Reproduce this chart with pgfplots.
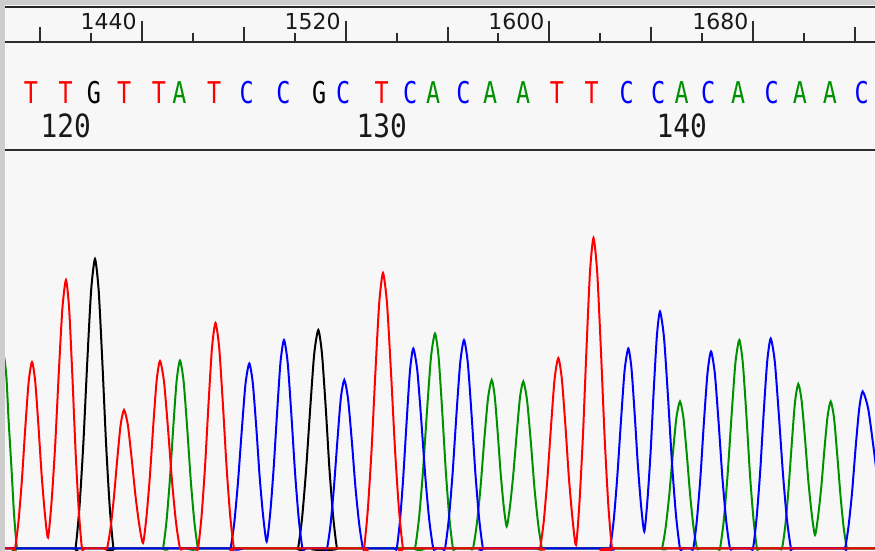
\documentclass[border=0pt]{standalone}
\usepackage{pgfplots}
\pgfplotsset{compat=1.18}
\usepackage{fontspec}
\newfontfamily\lettersfam[FakeStretch=0.78]{DejaVu Sans Mono}
\newfontfamily\numfam[FakeStretch=0.87]{DejaVu Sans Mono}
\newfontfamily\rulerfam{DejaVu Sans}
\newcommand\letterfont{\lettersfam\fontsize{15}{15}\selectfont}
\newcommand\posfont{\numfam\fontsize{16}{16}\selectfont}
\newcommand\rulerfont{\rulerfam\fontsize{11}{11}\selectfont}
\definecolor{tred}{RGB}{255,0,0}
\definecolor{tgreen}{RGB}{0,145,0}
\definecolor{tblue}{RGB}{0,0,255}
\definecolor{tblack}{RGB}{0,0,0}
\definecolor{bgcol}{RGB}{247,247,247}
\definecolor{framegrey}{RGB}{205,205,205}
\definecolor{rulecol}{RGB}{45,45,45}
\pgfplotsset{trace/.style={line width=1pt, smooth, tension=0.4}}
\begin{document}
\begin{tikzpicture}
\fill[bgcol] (0,0) rectangle (437.5pt,275.5pt);
% ---------------- traces ----------------
\begin{axis}[at={(0,0)}, anchor=south west, width=437.5pt, height=200.5pt,
  scale only axis, xmin=0, xmax=875, ymin=-2.5, ymax=398.5, hide axis, clip=true]
% G (black)
\addplot[tblack, trace] coordinates {
(-10,0) (72.5,0) (75.5,0) (79.4,40.5) (83.3,104.2) (87.2,185.3) (91.1,257.7) (95,289.5) (98.7,257.7) (102.4,185.3) (106.1,104.2) (109.8,40.5) (113.5,0) (116.5,0)
(295,0) (298,0) (302.1,30.6) (306.1,78.7) (310.2,139.8) (314.2,194.5) (318.3,218.5) (322.0,194.5) (325.8,139.8) (329.5,78.7) (333.3,30.6) (337,0) (340,0) (890,0)};
% A (green)
\addplot[tgreen, trace] coordinates {
(-8,212) (-2,206) (4,192) (6.5,170) (8.5,130) (11.5,80) (14,35) (17,0) (20,0)
(160,0) (163,0) (166.4,26.3) (169.8,67.7) (173.2,120.3) (176.6,167.3) (180,188) (183.6,167.3) (187.2,120.3) (190.8,67.7) (194.4,26.3) (198,0) (201,0)
(412,0) (415,0) (419,30.1) (423,77.4) (427,137.6) (431,191.4) (435,215) (438.6,191.4) (442.2,137.6) (445.8,77.4) (449.4,30.1) (453,0) (456,0)
(470,0) (473,0) (476.7,23.6) (480.5,60.7) (484.2,107.8) (488.0,150.0) (491.7,168.5) (494.7,152.4) (497.7,115.8) (500.7,74.7) (503.7,42.5) (506.7,22)
(510.0,42.3) (513.3,74.2) (516.7,114.8) (520.0,151.1) (523.3,167) (527.0,148.6) (530.8,106.9) (534.5,60.1) (538.3,23.4) (542,0) (545,0)
(659,0) (662,0) (665.6,20.6) (669.2,52.9) (672.8,94.1) (676.4,130.8) (680,147) (683.4,130.8) (686.8,94.1) (690.2,52.9) (693.6,20.6) (697,0) (700,0)
(717,0) (720,0) (723.9,29.2) (727.7,75.1) (731.6,133.4) (735.4,185.6) (739.3,208.5) (742.8,185.6) (746.4,133.4) (749.9,75.1) (753.5,29.2) (757,0) (760,0)
(779,0) (782,0) (785.3,23.0) (788.5,59.2) (791.8,105.3) (795.0,146.4) (798.3,164.5) (801.6,147.9) (805.0,110.1) (808.3,67.9) (811.7,34.6) (815,13.5)
(818.1,32.2) (821.3,61.6) (824.4,98.9) (827.6,132.3) (830.7,147) (834.0,130.8) (837.2,94.1) (840.5,52.9) (843.7,20.6) (847,0) (850,0) (890,0)};
% C (blue)
\addplot[tblue, trace] coordinates {
(-10,0) (227.5,0) (230.5,0) (234.3,25.9) (238.0,66.6) (241.8,118.4) (245.5,164.7) (249.3,185) (252.8,165.4) (256.3,120.9) (259.7,71.1) (263.2,31.9) (266.7,7)
(270.2,35.2) (273.6,79.5) (277.1,136.0) (280.5,186.3) (284,208.5) (287.7,185.6) (291.4,133.4) (295.1,75.1) (298.8,29.2) (302.5,0) (305.5,0)
(324,0) (327,0) (330.5,23.6) (333.9,60.7) (337.4,107.8) (340.8,150.0) (344.3,168.5) (348.0,150.0) (351.8,107.8) (355.5,60.7) (359.3,23.6) (363,0) (366,0)
(393.7,0) (396.7,0) (400.0,28) (403.3,72) (406.7,128) (410.0,178) (413.3,200) (417.3,178) (421.3,128) (425.3,72) (429.3,28) (433.3,0) (436.3,0)
(442,0) (445,0) (448.8,29.2) (452.6,75.1) (456.4,133.4) (460.2,185.6) (464,208.5) (467.8,185.6) (471.6,133.4) (475.4,75.1) (479.2,29.2) (483,0) (486,0)
(607,0) (610,0) (613.7,28) (617.3,72) (621.0,128) (624.6,178) (628.3,200) (631.5,179.9) (634.7,134.1) (637.9,82.9) (641.1,42.6) (644.3,17)
(647.4,47.8) (650.6,96.2) (653.7,157.8) (656.9,212.8) (660,237) (664,210.9) (668,151.7) (672,85.3) (676,33.2) (680,0) (683,0)
(690.3,0) (693.3,0) (696.8,27.6) (700.4,70.9) (703.9,126.1) (707.5,175.3) (711,197) (714.8,175.3) (718.6,126.1) (722.4,70.9) (726.2,27.6) (730,0) (733,0)
(750,0) (753,0) (756.5,29.4) (760.1,75.6) (763.6,134.4) (767.2,186.9) (770.7,210) (774.8,186.9) (778.8,134.4) (782.9,75.6) (786.9,29.4) (791,0) (794,0)
(842,0) (845,0) (848.5,22.0) (852.1,56.5) (855.6,100.5) (859.2,139.7) (862.7,157) (868.2,139.7) (873.6,100.5) (879.1,56.5) (884.5,22.0) (890,0)};
% T (red)
\addplot[tred, trace] coordinates {
(-10,0) (12,0) (15,0) (18.4,26.1) (21.8,67.1) (25.2,119.4) (28.6,166.0) (32,186.5) (35.2,167.2) (38.4,123.3) (41.6,74.2) (44.8,35.6) (48,11)
(51.6,47.1) (55.2,103.7) (58.8,175.8) (62.4,240.2) (66,268.5) (69.2,239.0) (72.4,171.8) (75.6,96.7) (78.8,37.6) (82,0) (85,0)
(104,0) (107,0) (110.4,19.4) (113.8,49.9) (117.2,88.6) (120.6,123.3) (124,138.5) (127.8,123.9) (131.6,90.6) (135.4,53.4) (139.2,24.1) (143,5.5)
(146.4,31.0) (149.8,71.0) (153.2,122.0) (156.6,167.5) (160,187.5) (164,166.9) (168,120.0) (172,67.5) (176,26.3) (180,0) (183,0)
(195,0) (198,0) (201.5,31.6) (205,81.2) (208.5,144.3) (212,200.7) (215.5,225.5) (219.2,200.7) (222.9,144.3) (226.6,81.2) (230.3,31.6) (234,0) (237,0)
(361,0) (364,0) (367.8,38.6) (371.6,99.2) (375.4,176.3) (379.2,245.2) (383,275.5) (387,245.2) (391,176.3) (395,99.2) (399,38.6) (403,0) (406,0)
(537,0) (540,0) (543.7,26.7) (547.3,68.6) (551.0,121.9) (554.6,169.5) (558.3,190.5) (561.8,169.9) (565.4,123.2) (568.9,70.8) (572.5,29.7) (576,3.5)
(579.5,46.5) (583,114.0) (586.5,200.0) (590,276.7) (593.5,310.5) (597.2,276.3) (600.9,198.7) (604.6,111.8) (608.3,43.5) (612,0) (615,0) (890,0)};
\end{axis}
% ---------------- base calls ----------------
\begin{axis}[at={(0,200.5pt)}, anchor=south west, width=437.5pt, height=53.75pt,
  scale only axis, xmin=1384.39, xmax=1727.76, ymin=0, ymax=107.5, hide axis, clip=false,
  point meta=explicit symbolic]
\addplot[only marks, mark=none, nodes near coords,
  nodes near coords style={anchor=south, inner sep=0pt, text=tred, font=\letterfont}]
  coordinates {(1396.5,46)[T] (1410.2,46)[T] (1433.1,46)[T] (1446.8,46)[T] (1468.4,46)[T] (1534.2,46)[T] (1602.9,46)[T] (1616.6,46)[T]};
\addplot[only marks, mark=none, nodes near coords,
  nodes near coords style={anchor=south, inner sep=0pt, text=tblack, font=\letterfont}]
  coordinates {(1421.2,46)[G] (1509.6,46)[G]};
\addplot[only marks, mark=none, nodes near coords,
  nodes near coords style={anchor=south, inner sep=0pt, text=tgreen, font=\letterfont}]
  coordinates {(1454.8,46)[A] (1554.4,46)[A] (1576.7,46)[A] (1589.7,46)[A] (1651.9,46)[A] (1674.1,46)[A] (1698.3,46)[A] (1710.1,46)[A]};
\addplot[only marks, mark=none, nodes near coords,
  nodes near coords style={anchor=south, inner sep=0pt, text=tblue, font=\letterfont}]
  coordinates {(1481.2,46)[C] (1495.6,46)[C] (1519.1,46)[C] (1545.3,46)[C] (1566.2,46)[C] (1630.3,46)[C] (1642.7,46)[C] (1662.3,46)[C] (1687.2,46)[C] (1722.5,46)[C]};
\addplot[only marks, mark=none, nodes near coords,
  nodes near coords style={anchor=south, inner sep=0pt, text=black!90, font=\posfont}]
  coordinates {(1410.2,12)[120] (1534.2,12)[130] (1651.9,12)[140]};
\end{axis}
% ---------------- ruler ----------------
\begin{axis}[at={(0,254.25pt)}, anchor=south west, width=437.5pt, height=21.25pt,
  scale only axis, xmin=1384.39, xmax=1727.76, ymin=0, ymax=1,
  axis x line*=bottom, axis y line=none, tick align=inside,
  xtick={1440,1520,1600,1680}, xticklabels={1440,1520,1600,1680},
  minor xtick={1420,1460,1500,1540,1580,1620,1660,1700},
  extra x ticks={1400,1480,1560,1640,1720}, extra x tick labels={},
  extra x tick style={grid=none, major tick length=7.5pt},
  major tick length=10.5pt, minor tick length=4.5pt,
  tick style={line width=1pt, color=rulecol},
  axis line style={line width=1pt, rulecol},
  xticklabel style={anchor=base east, inner sep=0pt, xshift=-2.3pt, yshift=6.5pt, font=\rulerfont, text=black!90}]
\end{axis}
\draw[line width=1pt, rulecol] (0,200.5pt) -- (437.5pt,200.5pt);
\fill[framegrey] (0,272.75pt) rectangle (437.5pt,275.5pt);
\draw[line width=0.8pt, black!85] (0,272.1pt) -- (437.5pt,272.1pt);
\fill[framegrey] (0,0) rectangle (2.3pt,275.5pt);
\pgfresetboundingbox
\useasboundingbox (0,0) rectangle (437.5pt,275.5pt);
\end{tikzpicture}
\end{document}
